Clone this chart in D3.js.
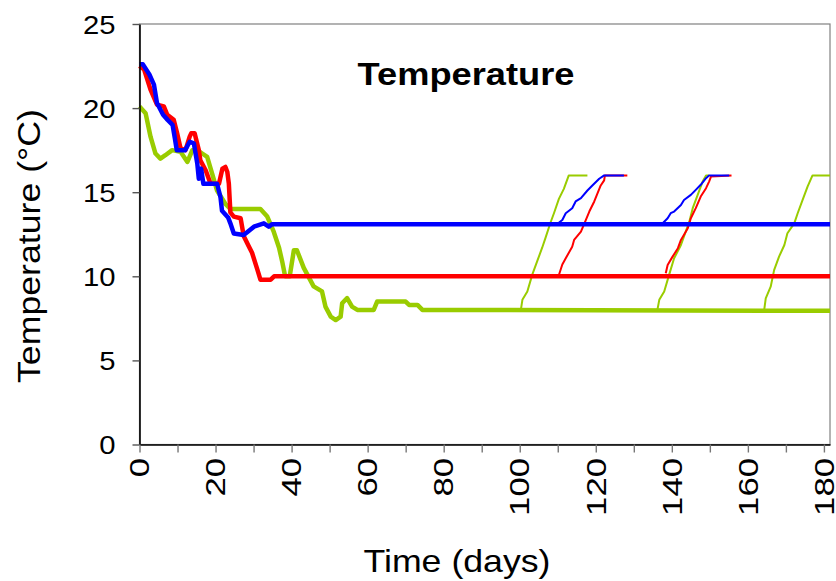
<!DOCTYPE html>
<html>
<head>
<meta charset="utf-8">
<script src="https://cdn.jsdelivr.net/npm/d3@7"></script>
<style>
  body { margin: 0; background: #fff; }
  text { font-family: "Liberation Sans", Arial, sans-serif; }
</style>
</head>
<body>
<svg id="chart" width="836" height="581"></svg>
<script>
// axis values
const xTicks = d3.range(0, 181, 10);
const yTicks = [0, 5, 10, 15, 20, 25];
const xMax = 181.6;

// thick series: [day, °C]
const redMain = [[0,22.5],[1.2,22.3],[2.9,21.1],[4.6,20.2],[6.4,20.1],[7.3,19.6],[9.0,19.3],[9.9,18.5],[10.8,17.6],[12.1,17.5],[13.2,18.3],[13.6,18.5],[14.5,18.5],[15.6,17.5],[16.0,16.9],[17.4,16.3],[18.7,15.5],[20.9,15.5],[21.8,16.4],[22.6,16.5],[23.1,16.2],[23.5,15.5],[23.9,13.8],[24.8,13.55],[26.6,13.45],[27.4,12.4],[28.7,11.8],[29.6,11.4],[31.0,10.4],[31.8,9.8],[34.5,9.8],[35.4,10.0],[181.6,10.0]];
const blueMain = [[0,22.6],[0.9,22.6],[2.6,22.0],[3.8,21.4],[4.6,20.3],[6.2,19.6],[7.4,19.3],[8.7,19.0],[9.3,18.2],[9.8,17.5],[12.0,17.5],[13.2,18.0],[14.3,17.9],[15.2,16.7],[15.6,15.8],[16.2,16.4],[16.8,15.5],[20.4,15.5],[21.3,14.7],[21.7,13.9],[23.3,13.5],[23.9,13.15],[24.8,12.55],[27.4,12.45],[30.1,12.95],[32.7,13.15],[34.0,12.95],[34.9,13.1],[181.6,13.1]];
const greenMain = [[0,20.1],[1.6,19.7],[2.9,18.3],[4.2,17.3],[5.5,17.0],[6.8,17.2],[8.6,17.5],[10.8,17.4],[12.6,16.8],[13.9,17.5],[15.2,17.5],[16.5,17.3],[17.8,17.1],[19.1,16.1],[20.4,15.1],[22.6,14.3],[23.9,14.0],[31.8,14.0],[33.6,13.55],[35.3,12.65],[36.7,11.7],[37.6,10.8],[38.3,10.0],[39.5,10.0],[40.6,11.55],[41.4,11.55],[43.2,10.5],[45.8,9.4],[48.0,9.1],[48.9,8.2],[50.3,7.6],[51.6,7.4],[52.9,7.6],[53.3,8.4],[54.6,8.7],[55.9,8.2],[57.3,8.0],[61.6,8.0],[62.5,8.5],[70.0,8.5],[70.9,8.3],[73.1,8.3],[74.4,8.0],[181.6,7.95]];

// thin ramps
const greenRamp1 = [[100.3,8.0],[100.7,8.6],[102.0,9.1],[103.3,10.1],[104.6,10.9],[105.9,11.7],[106.8,12.3],[108.1,13.2],[109.0,13.75],[110.3,14.6],[111.6,15.2],[112.9,16.0],[117.8,16.0]];
const blueRamp1 = [[109.5,13.05],[111.2,13.35],[112.1,13.75],[113.8,14.05],[114.7,14.45],[116.1,14.65],[117.8,15.1],[119.1,15.4],[120.9,15.8],[122.2,16.0],[127.4,16.0]];
const redRamp1 = [[110.3,10.08],[111.2,10.7],[112.1,11.07],[113.8,11.76],[114.3,12.16],[116.1,12.65],[117.4,13.35],[118.3,13.85],[119.6,14.45],[121.3,15.4],[122.2,15.7],[122.4,16.0],[128.3,16.0]];
const greenRamp2 = [[136.2,8.0],[136.7,8.6],[138.0,9.1],[139.3,10.1],[140.6,11.07],[142.4,11.86],[144.6,13.25],[145.5,14.05],[146.8,14.84],[148.1,15.63],[149.0,16.0],[149.8,16.0]];
const blueRamp2 = [[137.6,13.15],[138.9,13.45],[139.7,13.75],[140.6,13.85],[142.4,14.24],[143.2,14.54],[145.0,14.84],[146.3,15.14],[147.6,15.44],[149.0,15.83],[149.8,16.0],[155.1,16.0]];
const redRamp2 = [[138.4,10.18],[138.9,10.67],[140.2,11.17],[141.6,11.67],[142.4,12.16],[144.2,12.86],[145.0,13.45],[146.3,14.05],[147.6,14.74],[149.0,15.24],[149.8,15.63],[150.3,15.93],[155.7,16.0]];
const greenRamp3 = [[164.3,8.0],[164.7,8.69],[166.0,9.38],[166.9,10.37],[168.2,11.17],[169.6,11.86],[170.4,12.56],[172.2,13.15],[173.1,13.75],[174.4,14.54],[175.7,15.33],[177.0,16.0],[181.6,16.0]];

const RED = "#ff0000", BLUE = "#0000ff", GREEN = "#99cc00";
const stretch = 1.17; // text in the source is wider than plain Arial

const mLeft = 139.5, mRight = 830, mTop = 24, mBottom = 444.5;
const svg = d3.select("#chart");

const x = d3.scaleLinear().domain([0, xMax]).range([mLeft, mRight]);
const y = d3.scaleLinear().domain([0, 25]).range([mBottom, mTop]);

// plot frame
svg.append("rect")
  .attr("x", mLeft).attr("y", mTop)
  .attr("width", mRight - mLeft).attr("height", mBottom - mTop)
  .attr("fill", "none").attr("stroke", "#808080").attr("stroke-width", 1.2);

const line = d3.line().x(d => x(d[0])).y(d => y(d[1]));

const thin = [[greenRamp1, GREEN], [greenRamp2, GREEN], [greenRamp3, GREEN],
              [redRamp1, RED], [redRamp2, RED], [blueRamp1, BLUE], [blueRamp2, BLUE]];
svg.append("g").selectAll("path")
  .data(thin).enter().append("path")
  .attr("d", d => line(d[0]))
  .attr("fill", "none").attr("stroke", d => d[1])
  .attr("stroke-width", 2).attr("stroke-linejoin", "round");

const thick = [[greenMain, GREEN], [redMain, RED], [blueMain, BLUE]];
svg.append("g").selectAll("path")
  .data(thick).enter().append("path")
  .attr("d", d => line(d[0]))
  .attr("fill", "none").attr("stroke", d => d[1])
  .attr("stroke-width", 4.5).attr("stroke-linejoin", "round");

// y axis
const gy = svg.append("g")
  .attr("transform", `translate(${mLeft},0)`)
  .call(d3.axisLeft(y).tickValues(yTicks).tickSize(7).tickSizeOuter(0));
gy.select(".domain").attr("stroke", "#000").attr("stroke-width", 1.6);
gy.selectAll(".tick line").attr("stroke", "#555").attr("stroke-width", 1.4);
gy.selectAll(".tick text")
  .attr("x", 0).attr("dy", "0.36em")
  .attr("transform", `translate(-24,0) scale(${stretch},1)`)
  .attr("font-size", 25).attr("fill", "#000")
  .attr("font-family", "Liberation Sans, Arial, sans-serif");

// x axis
const gx = svg.append("g")
  .attr("transform", `translate(0,${mBottom})`)
  .call(d3.axisBottom(x).tickValues(xTicks).tickSize(8).tickSizeOuter(0)
    .tickFormat(d => d % 20 === 0 ? d : ""));
gx.select(".domain").attr("stroke", "#000").attr("stroke-width", 1.6);
gx.selectAll(".tick line").attr("stroke", "#777").attr("stroke-width", 1.4);
gx.selectAll(".tick text")
  .attr("x", 0).attr("y", 0).attr("dy", "0.33em")
  .attr("text-anchor", "end")
  .attr("transform", "translate(0,13.5) rotate(-90) scale(1.24,1)")
  .attr("font-size", 28).attr("fill", "#000")
  .attr("font-family", "Liberation Sans, Arial, sans-serif");

// titles
svg.append("text")
  .attr("transform", `translate(466,85) scale(${stretch},1)`)
  .attr("text-anchor", "middle").attr("font-size", 31).attr("font-weight", "bold")
  .text("Temperature");

svg.append("text")
  .attr("transform", `translate(457,572) scale(${stretch},1)`)
  .attr("text-anchor", "middle").attr("font-size", 30.5)
  .text("Time (days)");

svg.append("text")
  .attr("transform", `translate(40,246) rotate(-90) scale(${stretch},1)`)
  .attr("text-anchor", "middle").attr("font-size", 30.5)
  .text("Temperature (°C)");
</script>
</body>
</html>
